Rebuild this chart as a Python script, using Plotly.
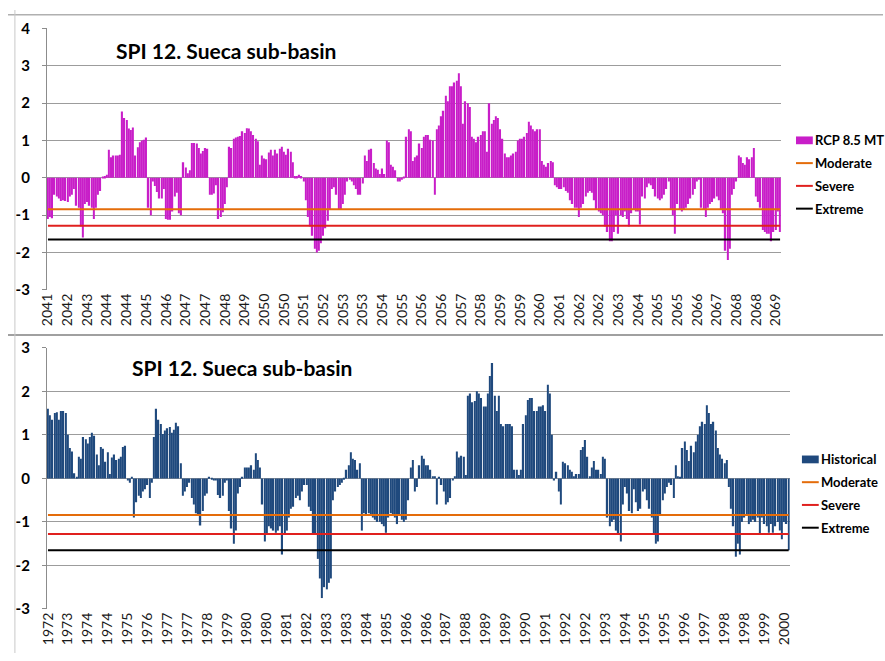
import plotly.graph_objects as go

# ---------------- data ----------------
# SPI-12 monthly values, Oct 2041 .. Sep 2069 (RCP 8.5 MT)
spi_rcp85 = [
    -1.1, -1.05, -1.08, -0.45, -0.5, -0.55, -0.62, -0.6, -0.62, -0.65, -0.5, -0.45, -0.3, -0.75, -0.8,
    -1.3, -1.6, -0.7, -0.65, -0.75, -0.8, -1.1, -0.8, -0.45, -0.35,
    0.02, 0.05, 0.08, 0.75, 0.55, 0.6, 0.6, 0.6, 0.62, 1.78, 1.6, 1.55, 1.32, 1.28, 1.35, 0.6, 0.82,
    0.95, 1.0, 1.02, 1.08,
    -0.8, -1.0, -0.1, -0.22, -0.38, -0.55, -0.55, -0.3, -1.1, -1.12, -1.12, -0.9, -0.5, -0.4, -0.95, -1.0,
    0.42, 0.28, 0.12, 0.2, 0.93, 0.93, 0.92, 0.8, 0.65, 0.72, 0.8, 0.78,
    -0.45, -0.45, -0.42, -0.2, -1.1, -1.05, -0.92, -0.7, -0.25,
    0.83, 0.8, 1.05, 1.08, 1.1, 1.12, 1.25, 1.2, 1.33, 1.32, 1.25, 1.15, 1.05, 0.98, 0.35, 0.6, 0.52,
    0.5, 0.68, 0.75, 0.6, 0.75, 0.65, 0.78, 0.83, 0.7, 0.62, 0.78, 0.7, 0.42, 0.05, 0.05, 0.08, 0.05,
    -0.1, -0.6, -1.05, -1.3, -1.55, -1.9, -2.0, -1.95, -1.75, -1.55, -1.35, -1.15, -0.85, -0.3, -0.25,
    -0.45, -0.85, -0.85, -0.7, -0.45, -0.1, -0.05, -0.1, -0.2, -0.3, -0.45, -0.45, -0.15,
    0.6, 0.45, 0.75, 0.78, 0.4, 0.25, 0.22, 0.1, 0.25, 0.1, 1.0, 0.95, 0.35, 0.3, 0.2, -0.1, -0.1,
    -0.05, 0.02, 1.1, 1.3, 1.25, 0.45, 0.55, 0.6, 0.92, 0.8, 1.1, 1.15, 1.15, 1.02, 1.0,
    -0.45,
    1.3, 1.4, 1.65, 1.8, 2.2, 2.05, 2.45, 2.45, 2.55, 2.6, 2.8, 2.45, 1.45, 2.05, 2.0, 1.9, 1.1, 1.05,
    0.95, 1.1, 1.15, 1.25, 1.25, 0.7, 2.0, 1.45, 1.55, 1.65, 1.6, 1.3, 1.05, 0.65, 0.55, 0.55, 0.6,
    0.65, 0.7, 1.0, 1.05, 1.05, 1.1, 1.2, 1.5, 1.4, 1.3, 1.25, 1.3, 1.3, 0.45, 0.35, 0.3, 0.4, 0.45, 0.42,
    -0.2, -0.25, -0.3, -0.3, -0.25, -0.35, -0.4, -0.6, -0.7, -0.8, -0.8, -1.05, -0.8, -0.7, -0.5, -0.4,
    -0.35, -0.4,
    -0.6, -0.85, -0.9, -0.95, -1.0, -1.3, -1.45, -1.7, -1.7, -1.45, -1.0, -1.5, -1.0, -1.05, -0.9, -1.1,
    -1.3, -0.95, -0.85, -0.9, -0.9, -1.25, -0.5, -0.55, -0.25, -0.15, -0.2, -0.3, -0.5, -0.55, -0.6,
    -0.55, -0.45, -0.3, -0.1, -0.85, -1.0, -1.5, -0.7, -0.85, -0.9, -0.85, -0.8, -0.7, -0.55, -0.45,
    -0.3, -0.1, -0.05, -0.8, -0.85, -1.05, -0.8, -0.7, -0.65, -0.55, -0.5, -0.6, -0.85, -0.95, -1.95,
    -2.2, -1.9, -0.45, -0.3, -0.1,
    0.6, 0.55, 0.4, 0.35, 0.55, 0.5, 0.55, 0.8,
    -0.5, -0.65, -0.8, -1.4, -1.45, -1.5, -1.5, -1.7, -1.45, -1.4, -0.9, -1.45,
]

# SPI-12 monthly values, Oct 1972 .. Sep 2000 (Historical)
spi_hist = [
    1.6, 1.45, 1.35, 1.5, 1.52, 1.35, 1.55, 1.55, 1.5, 1.0,
    0.7, 0.62, 0.12, 0.02, 0.5, 0.45, 0.95, 0.9, 0.8, 0.95,
    1.05, 0.98, 0.55, 0.3, 0.72, 0.68, 0.38, 0.6, 0.1, 0.48,
    0.55, 0.42, 0.45, 0.5, 0.72, 0.75, -0.05, -0.1, 0.02, -0.9,
    -0.55, -0.4, -0.45, -0.3, -0.25, -0.15, -0.45, -0.1, 0.95, 1.6,
    1.35, 1.25, 1.02, 1.1, 1.15, 1.18, 1.05, 1.12, 1.28, 1.2,
    0.35, -0.4, -0.3, -0.2, -0.1, -0.45, -0.6, -0.8, -0.85, -1.08,
    -0.75, -0.4, -0.35, 0.02, -0.02, -0.05, -0.05, -0.38, -0.45, -0.4,
    -0.1, -0.05, -0.75, -1.15, -1.5, -1.2, -0.35, -0.2, 0.02, 0.25,
    0.25, 0.25, 0.3, 0.2, 0.58, 0.42, 0.25, -0.6, -1.45, -1.3,
    -1.1, -1.15, -1.2, -1.25, -1.2, -1.1, -1.75, -1.3, -1.2, -0.9,
    -0.7, -0.65, -0.45, -0.4, -0.5, -0.3,
    -0.15, -0.15, -0.65, -0.75, -1.3, -1.3, -1.85, -2.3, -2.75, -2.5, -2.55, -2.4, -2.3, -0.5,
    -0.3, -0.2, -0.15, -0.1, -0.02, 0.2, 0.3, 0.6, 0.45, 0.42, 0.2, 0.35,
    -1.2, -0.8, -0.85, -0.8, -0.85, -0.9, -0.95, -1.0, -1.0, -1.05, -1.1, -1.25, -0.9, -0.8, -0.85,
    -0.9, -1.05, -0.85, -0.95, -1.0, -0.95, -0.5,
    0.25, 0.42, -0.3, -0.2, 0.3, 0.52, 0.45, 0.3, 0.3, 0.2, 0.05, 0.05, -0.6, 0.03, -0.15, -0.3,
    -0.6, -0.55, -0.45, -0.05, 0.05, 0.62, 0.48, 0.52, 0.5, 0.08,
    1.9, 1.95, 1.75, 1.78, 2.0, 1.95, 1.85, 1.65, 1.65, 1.95, 2.35, 2.65, 1.9, 1.55, 1.9, 1.25, 1.2,
    1.25, 1.25, 1.25, 1.2, 0.2, 0.2, 0.08, 0.2, 1.25, 1.45, 1.8, 1.85, 1.85, 1.55, 1.55, 1.65, 1.65,
    1.68, 1.55, 2.15, 1.95, 1.0, -0.05, 0.15, -0.3, -0.6,
    0.38, 0.35, 0.3, 0.2, 0.15, 0.05, 0.1, 0.1, 0.65, 0.72, 0.88, 0.5, 0.05, 0.25, 0.4, 0.2, 0.2, 0.1,
    0.5, 0.45,
    -0.9, -1.1, -1.0, -0.95, -1.2, -1.3, -1.45, -0.6, -0.2, -0.35, -0.75, -0.8, -0.25, -0.55, -0.75,
    -0.7, -0.3, -0.25, -0.5, -0.7, -0.9, -1.3, -1.5, -1.45, -0.85, -0.5, -0.35, -0.2, -0.1, -0.15, -0.45,
    0.3, 0.05, 0.02, 0.7, 0.85, 0.65, 0.4, 0.75, 0.6, 0.85, 1.0, 1.2, 1.3, 1.25, 1.68, 1.5, 1.25, 1.3,
    1.1, 0.7, 0.55, 0.45, 0.35, 0.42,
    -0.2, -0.7, -1.1, -1.8, -1.5, -1.75, -1.0, -0.9, -0.85, -1.05, -1.0, -0.95, -1.0, -0.9, -1.3, -0.9,
    -1.05, -1.1, -1.25, -1.05, -1.25, -1.1, -1.0, -1.2, -1.4, -1.0, -1.05, -1.65,
]

tick_labels_rcp85 = [
    "2041", "2042", "2043", "2044", "2044", "2045", "2046", "2047", "2047", "2048",
    "2049", "2050", "2050", "2051", "2052", "2053", "2053", "2054", "2055", "2056",
    "2056", "2057", "2058", "2059", "2059", "2060", "2061", "2062", "2062", "2063",
    "2064", "2065", "2065", "2066", "2067", "2068", "2068", "2069",
]
tick_labels_hist = [
    "1972", "1973", "1974", "1974", "1975", "1976", "1977", "1977", "1978", "1979",
    "1980", "1980", "1981", "1982", "1983", "1983", "1984", "1985", "1986", "1986",
    "1987", "1988", "1989", "1989", "1990", "1991", "1992", "1992", "1993", "1994",
    "1995", "1995", "1996", "1997", "1998", "1998", "1999", "2000",
]
label_interval = 9  # one category label every 9 months

threshold_names = ["Moderate", "Severe", "Extreme"]
threshold_values = [-0.84, -1.28, -1.65]
threshold_colors = ["#E46C0A", "#E0201E", "#000000"]

title_text = "SPI 12. Sueca sub-basin"

# ---------------- layout helpers ----------------
W, H = 885, 661
FONT = "Lato"
LEG_FONT = 13


def px_x(p):
    return p / W


def px_y(p):
    return 1 - p / H


panels = [
    dict(values=spi_rcp85, labels=tick_labels_rcp85, name="RCP 8.5 MT", color="#C81EC8",
         x0=39.3, x1=782.0, ytop=19.0, ybot=287.7, yr=[-3, 4],
         leg_x=797, leg_y=134, title_x=107, title_y=42),
    dict(values=spi_hist, labels=tick_labels_hist, name="Historical", color="#1F497D",
         x0=39.3, x1=790.7, ytop=347.3, ybot=615.7, yr=[-3, 3],
         leg_x=803, leg_y=462, title_x=123, title_y=368),
]
LEG_STEP = 23.4

fig = go.Figure()
layout = dict(
    width=W, height=H, autosize=False,
    margin=dict(l=0, r=0, t=0, b=0),
    paper_bgcolor="white", plot_bgcolor="white",
    bargap=0.38, showlegend=False,
    font=dict(family=FONT, color="#000000"),
)

annotations = []
shapes = []

for i, p in enumerate(panels):
    n = len(p["values"])
    cats = list(range(n))
    xa = "x" if i == 0 else "x2"
    ya = "y" if i == 0 else "y2"
    xkey = "xaxis" if i == 0 else "xaxis2"
    ykey = "yaxis" if i == 0 else "yaxis2"
    zkey = "xaxis%d" % (3 + i)

    fig.add_trace(go.Bar(x=cats, y=p["values"], name=p["name"], marker_color=p["color"],
                         marker_line_width=0, xaxis=xa, yaxis=ya))
    for tn, tv, tc in zip(threshold_names, threshold_values, threshold_colors):
        fig.add_trace(go.Scatter(x=cats, y=[tv] * n, name=tn, mode="lines",
                                 line=dict(color=tc, width=2), xaxis=xa, yaxis=ya))

    xdom = [px_x(p["x0"]), px_x(p["x1"])]
    ydom = [px_y(p["ybot"]), px_y(p["ytop"])]
    xr = [-0.5, n - 0.5]
    yticks = list(range(p["yr"][0], p["yr"][1] + 1))
    layout[xkey] = dict(
        domain=xdom, range=xr, anchor=ya,
        tickmode="array",
        tickvals=[k * label_interval for k in range(len(p["labels"]))],
        ticktext=p["labels"], tickangle=-90,
        tickfont=dict(family=FONT, size=14, color="#1a1a1a"),
        showgrid=False, zeroline=False, showline=False, ticks="",
    )
    layout[ykey] = dict(
        domain=ydom, range=p["yr"], anchor=xa,
        tickmode="array", tickvals=yticks, ticktext=["<b>%d</b>" % v for v in yticks],
        showgrid=True, gridcolor="#9C9C9C", gridwidth=1, zeroline=False,
        showline=True, linecolor="#8C8C8C", linewidth=1,
        ticks="outside", ticklen=4, tickcolor="#8C8C8C", ticklabelstandoff=9,
        tickfont=dict(family=FONT, size=15, color="#000000"),
    )
    # horizontal category axis crossing at zero (tick marks between categories)
    zero_pos = ydom[0] + (0 - p["yr"][0]) / (p["yr"][1] - p["yr"][0]) * (ydom[1] - ydom[0])
    layout[zkey] = dict(
        overlaying=xa, anchor="free", position=zero_pos, domain=xdom, range=xr,
        tick0=-0.5, dtick=1, ticks="outside", ticklen=4, tickcolor="#A8A8A8", tickwidth=1,
        showticklabels=False, showgrid=False, zeroline=False,
        showline=True, linecolor="#A8A8A8", linewidth=1, layer="below traces",
    )

    # legend drawn in paper space (Excel-style, next to the plot area)
    lx, ly = p["leg_x"], p["leg_y"]
    shapes.append(dict(type="rect", xref="paper", yref="paper",
                       x0=px_x(lx), x1=px_x(lx + 17), y0=px_y(ly + 4), y1=px_y(ly - 4),
                       fillcolor=p["color"], line=dict(width=0)))
    annotations.append(dict(text="<b>%s</b>" % p["name"], x=px_x(lx + 17), y=px_y(ly),
                            xref="paper", yref="paper", xanchor="left", yanchor="middle",
                            showarrow=False, font=dict(family=FONT, size=LEG_FONT, color="#000000")))
    for j, (tn, tc) in enumerate(zip(threshold_names, threshold_colors)):
        yy = ly + (j + 1) * LEG_STEP
        shapes.append(dict(type="line", xref="paper", yref="paper",
                           x0=px_x(lx), x1=px_x(lx + 17), y0=px_y(yy), y1=px_y(yy),
                           line=dict(color=tc, width=2)))
        annotations.append(dict(text="<b>%s</b>" % tn, x=px_x(lx + 17), y=px_y(yy),
                                xref="paper", yref="paper", xanchor="left", yanchor="middle",
                                showarrow=False, font=dict(family=FONT, size=LEG_FONT, color="#000000")))

    annotations.append(dict(
        text="<b>%s</b>" % title_text, x=px_x(p["title_x"]), y=px_y(p["title_y"]),
        xref="paper", yref="paper", xanchor="left", yanchor="middle", showarrow=False,
        font=dict(family=FONT, size=21, color="#000000"),
    ))

# chart-area borders
shapes.append(dict(type="line", xref="paper", yref="paper", x0=0, x1=1,
                   y0=px_y(5), y1=px_y(5), line=dict(color="#B0B0B0", width=1.5)))
shapes.append(dict(type="line", xref="paper", yref="paper", x0=0, x1=1,
                   y0=px_y(334), y1=px_y(334), line=dict(color="#A0A0A0", width=2)))
shapes.append(dict(type="line", xref="paper", yref="paper", x0=px_x(7), x1=px_x(7),
                   y0=0, y1=1, line=dict(color="#C8C8C8", width=1)))

layout["annotations"] = annotations
layout["shapes"] = shapes
fig.update_layout(**layout)

fig.write_html("out.html")
